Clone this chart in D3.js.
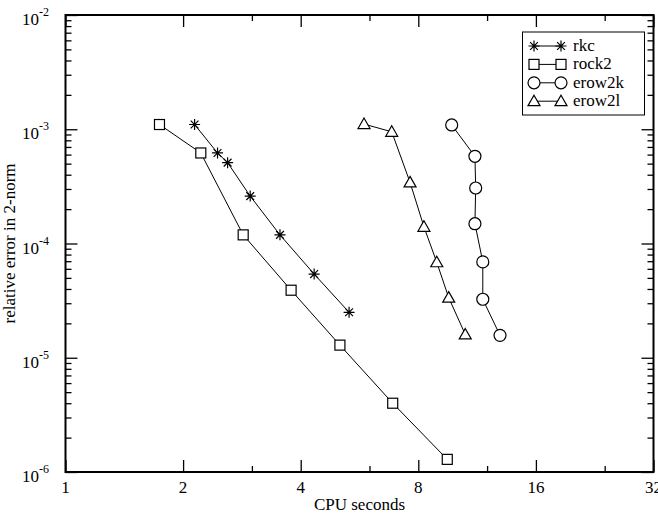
<!DOCTYPE html>
<html>
<head>
<meta charset="utf-8">
<script src="https://cdn.jsdelivr.net/npm/d3@7"></script>
<style>
  body { margin: 0; background: #fff; }
  text { font-family: "Liberation Serif", "Times New Roman", serif; fill: #000; }
</style>
</head>
<body>
<svg width="658" height="517"></svg>
<script>
const margin = {left: 65.5, right: 4.5, top: 15, bottom: 45}
const width = 658
const height = 517

// series values (cpu seconds, relative error)
const rkc_x = [2.14, 2.45, 2.60, 2.97, 3.54, 4.33, 5.32]
const rkc_y = [1.10e-3, 6.2e-4, 5.1e-4, 2.6e-4, 1.19e-4, 5.4e-5, 2.5e-5]
const rock2_x = [1.74, 2.22, 2.85, 3.78, 5.04, 6.88, 9.49]
const rock2_y = [1.10e-3, 6.2e-4, 1.19e-4, 3.9e-5, 1.29e-5, 4.0e-6, 1.29e-6]
const erow2k_x = [9.74, 11.17, 11.22, 11.17, 11.70, 11.70, 12.95]
const erow2k_y = [1.09e-3, 5.8e-4, 3.06e-4, 1.49e-4, 6.9e-5, 3.25e-5, 1.57e-5]
const erow2l_x = [5.81, 6.84, 7.62, 8.27, 8.92, 9.57, 10.55]
const erow2l_y = [1.11e-3, 9.5e-4, 3.43e-4, 1.40e-4, 6.85e-5, 3.36e-5, 1.60e-5]

const series_names = ["rkc", "rock2", "erow2k", "erow2l"]
const series_markers = ["star", "square", "circle", "triangle"]

const x_major = [1, 2, 4, 8, 16, 32]
const x_minor = [3, 6, 12, 24]
const y_major_exp = [-6, -5, -4, -3, -2]

const zip = (xs, ys) => xs.map((x, i) => [x, ys[i]])
const series = [
    zip(rkc_x, rkc_y),
    zip(rock2_x, rock2_y),
    zip(erow2k_x, erow2k_y),
    zip(erow2l_x, erow2l_y)
]

var svg = d3.select("svg")

const x = d3.scaleLog().base(2).domain([1, 32]).range([margin.left, width - margin.right])
const y = d3.scaleLog().domain([1e-6, 1e-2]).range([height - margin.bottom, margin.top])

const y_major = y_major_exp.map(e => Math.pow(10, e))
const y_minor = []
for (let e = -6; e < -2; e++) {
    for (let k = 2; k <= 9; k++) y_minor.push(k * Math.pow(10, e))
}

const x0 = x.range()[0], x1 = x.range()[1]
const y0 = y.range()[0], y1 = y.range()[1]

function tick_axis(axis, size, tr) {
    svg.append("g")
        .attr("transform", tr)
        .call(axis.tickSizeInner(size).tickSizeOuter(0).tickFormat(""))
        .call(g => g.select(".domain").remove())
        .call(g => g.selectAll("line").attr("stroke", "#000").attr("stroke-width", 1.3))
}

// ticks on all four sides, pointing inward
tick_axis(d3.axisBottom(x).tickValues(x_major), -12, `translate(0,${y0})`)
tick_axis(d3.axisBottom(x).tickValues(x_minor), -6, `translate(0,${y0})`)
tick_axis(d3.axisTop(x).tickValues(x_major), -12, `translate(0,${y1})`)
tick_axis(d3.axisTop(x).tickValues(x_minor), -6, `translate(0,${y1})`)
tick_axis(d3.axisLeft(y).tickValues(y_major), -12, `translate(${x0},0)`)
tick_axis(d3.axisLeft(y).tickValues(y_minor), -6, `translate(${x0},0)`)
tick_axis(d3.axisRight(y).tickValues(y_major), -12, `translate(${x1},0)`)
tick_axis(d3.axisRight(y).tickValues(y_minor), -6, `translate(${x1},0)`)

svg.append("rect")
    .attr("x", x0).attr("y", y1)
    .attr("width", x1 - x0).attr("height", y0 - y1)
    .attr("fill", "none").attr("stroke", "#000").attr("stroke-width", 2)

// tick labels
svg.selectAll(".xlab")
    .data(x_major)
    .enter()
    .append("text")
    .attr("x", d => x(d))
    .attr("y", y0 + 21)
    .attr("text-anchor", "middle")
    .style("font-size", "17px")
    .text(d => d)

const ylab = svg.selectAll(".ylab")
    .data(y_major_exp)
    .enter()
    .append("text")
    .attr("x", 49)
    .attr("y", e => y(Math.pow(10, e)) + 10)
    .attr("text-anchor", "end")
    .style("font-size", "17px")
ylab.append("tspan").text("10")
ylab.append("tspan")
    .attr("dy", -9)
    .style("font-size", "12px")
    .text(e => e)

// axis titles
svg.append("text")
    .attr("x", (x0 + x1) / 2)
    .attr("y", 510)
    .attr("text-anchor", "middle")
    .style("font-size", "17px")
    .text("CPU seconds")

svg.append("text")
    .attr("transform", `translate(15,${(y0 + y1) / 2}) rotate(-90)`)
    .attr("text-anchor", "middle")
    .style("font-size", "17px")
    .text("relative error in 2-norm")

// markers
function draw_marker(g, type, cx, cy) {
    if (type === "star") {
        const r = 5.5
        const d = r * 0.707
        g.append("path")
            .attr("d", `M${cx},${cy - r}V${cy + r}M${cx - r},${cy}H${cx + r}` +
                `M${cx - d},${cy - d}L${cx + d},${cy + d}M${cx - d},${cy + d}L${cx + d},${cy - d}`)
            .attr("stroke", "#000").attr("stroke-width", 1.2).attr("fill", "none")
    } else if (type === "square") {
        g.append("rect")
            .attr("x", cx - 5).attr("y", cy - 5)
            .attr("width", 10).attr("height", 10)
            .attr("fill", "#fff").attr("stroke", "#000").attr("stroke-width", 1.2)
    } else if (type === "circle") {
        g.append("circle")
            .attr("cx", cx).attr("cy", cy).attr("r", 6)
            .attr("fill", "#fff").attr("stroke", "#000").attr("stroke-width", 1.2)
    } else {
        g.append("path")
            .attr("d", `M${cx},${cy - 6}L${cx + 6},${cy + 4.5}L${cx - 6},${cy + 4.5}Z`)
            .attr("fill", "#fff").attr("stroke", "#000").attr("stroke-width", 1.2)
    }
}

const line = d3.line().x(p => x(p[0])).y(p => y(p[1]))

series.forEach((pts, i) => {
    const g = svg.append("g")
    g.append("path")
        .attr("d", line(pts))
        .attr("fill", "none").attr("stroke", "#000").attr("stroke-width", 1)
    pts.forEach(p => draw_marker(g, series_markers[i], x(p[0]), y(p[1])))
})

// legend
const legend = svg.append("g")
legend.append("rect")
    .attr("x", 522.5).attr("y", 32)
    .attr("width", 122).attr("height", 83)
    .attr("fill", "#fff").attr("stroke", "#000").attr("stroke-width", 1)

series_names.forEach((name, i) => {
    const ly = 46 + i * 18.4
    legend.append("line")
        .attr("x1", 534).attr("x2", 561)
        .attr("y1", ly).attr("y2", ly)
        .attr("stroke", "#000").attr("stroke-width", 1)
    draw_marker(legend, series_markers[i], 534, ly)
    draw_marker(legend, series_markers[i], 561, ly)
    legend.append("text")
        .attr("x", 573)
        .attr("y", ly + 5)
        .style("font-size", "17px")
        .text(name)
})
</script>
</body>
</html>
